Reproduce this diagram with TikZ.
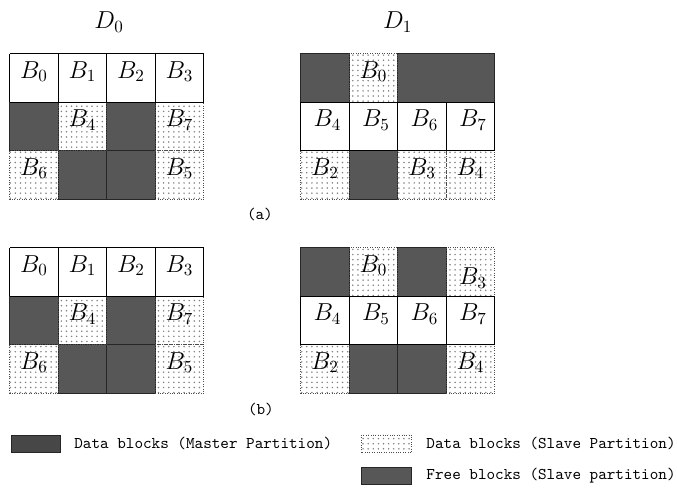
\documentclass[tikz,border=0pt]{standalone}
\usetikzlibrary{patterns}
\begin{document}
\begin{tikzpicture}[x=1.0 cm, y=1.0 cm,
  blk/.style={font=\fontsize{14}{16}\selectfont},
  legtext/.style={font=\fontsize{9.6}{11}\selectfont\ttfamily},
  masterblk/.style={fill=black!72, draw=black!85},
  freeblk/.style={fill=black!66, draw=black!85},
  slaveblk/.style={pattern=dots, pattern color=black!50, draw=black!70, densely dotted}]
\useasboundingbox (0,0) rectangle (13.96,10.31);
% disk labels
\node[blk] (d0) at (2.25,9.86) {$D_0$};
\node[blk] (d1) at (8.2,9.86) {$D_1$};
% (a) D0
\begin{scope}[shift={(0.2,6.2)}]
\draw[freeblk] (0,1) rectangle (1,2) (2,1) rectangle (3,2) (1,0) rectangle (2,1) (2,0) rectangle (3,1);
\draw[slaveblk] (1,1) rectangle (2,2) (3,1) rectangle (4,2) (0,0) rectangle (1,1) (3,0) rectangle (4,1);
\draw (0,2) grid (4,3);
\foreach \i in {0,...,3} \node[blk] (a0w\i) at (\i+0.5,2.63) {$B_\i$};
\node[blk] (a0b4) at (1.5,1.63) {$B_4$};
\node[blk] (a0b7) at (3.5,1.63) {$B_7$};
\node[blk] (a0b6) at (0.5,0.63) {$B_6$};
\node[blk] (a0b5) at (3.5,0.63) {$B_5$};
\end{scope}
% (a) D1
\begin{scope}[shift={(6.2,6.2)}]
\draw[freeblk] (0,2) rectangle (1,3) (2,2) rectangle (4,3) (1,0) rectangle (2,1);
\draw[slaveblk] (1,2) rectangle (2,3) (0,0) rectangle (1,1) (2,0) rectangle (3,1) (3,0) rectangle (4,1);
\draw (0,1) grid (4,2);
\foreach \i/\k in {0/4,1/5,2/6,3/7} \node[blk] (a1w\i) at (\i+0.55,1.63) {$B_\k$};
\node[blk] (a1b0) at (1.5,2.63) {$B_0$};
\node[blk] (a1b2) at (0.5,0.63) {$B_2$};
\node[blk] (a1b3) at (2.5,0.63) {$B_3$};
\node[blk] (a1b4) at (3.5,0.63) {$B_4$};
\end{scope}
\node[legtext] (capa) at (5.36,5.88) {(a)};
% (b) D0
\begin{scope}[shift={(0.2,2.2)}]
\draw[freeblk] (0,1) rectangle (1,2) (2,1) rectangle (3,2) (1,0) rectangle (2,1) (2,0) rectangle (3,1);
\draw[slaveblk] (1,1) rectangle (2,2) (3,1) rectangle (4,2) (0,0) rectangle (1,1) (3,0) rectangle (4,1);
\draw (0,2) grid (4,3);
\foreach \i in {0,...,3} \node[blk] (b0w\i) at (\i+0.5,2.63) {$B_\i$};
\node[blk] (b0b4) at (1.5,1.63) {$B_4$};
\node[blk] (b0b7) at (3.5,1.63) {$B_7$};
\node[blk] (b0b6) at (0.5,0.63) {$B_6$};
\node[blk] (b0b5) at (3.5,0.63) {$B_5$};
\end{scope}
% (b) D1
\begin{scope}[shift={(6.2,2.2)}]
\draw[freeblk] (0,2) rectangle (1,3) (2,2) rectangle (3,3) (1,0) rectangle (2,1) (2,0) rectangle (3,1);
\draw[slaveblk] (1,2) rectangle (2,3) (3,2) rectangle (4,3) (0,0) rectangle (1,1) (3,0) rectangle (4,1);
\draw (0,1) grid (4,2);
\foreach \i/\k in {0/4,1/5,2/6,3/7} \node[blk] (b1w\i) at (\i+0.55,1.63) {$B_\k$};
\node[blk] (b1b0) at (1.5,2.63) {$B_0$};
\node[blk] (b1b3) at (3.55,2.38) {$B_3$};
\node[blk] (b1b2) at (0.5,0.63) {$B_2$};
\node[blk] (b1b4) at (3.5,0.63) {$B_4$};
\end{scope}
\node[legtext] (capb) at (5.38,1.86) {(b)};
% legend
\draw[masterblk] (0.23,0.98) rectangle (1.24,1.34);
\node[legtext, anchor=west] (lmaster) at (1.41,1.16) {Data blocks (Master Partition)};
\draw[slaveblk] (7.46,0.98) rectangle (8.49,1.34);
\node[legtext, anchor=west] (lslave) at (8.67,1.16) {Data blocks (Slave Partition)};
\draw[freeblk] (7.46,0.32) rectangle (8.49,0.68);
\node[legtext, anchor=west] (lfree) at (8.67,0.5) {Free blocks (Slave partition)};
\end{tikzpicture}
\end{document}
